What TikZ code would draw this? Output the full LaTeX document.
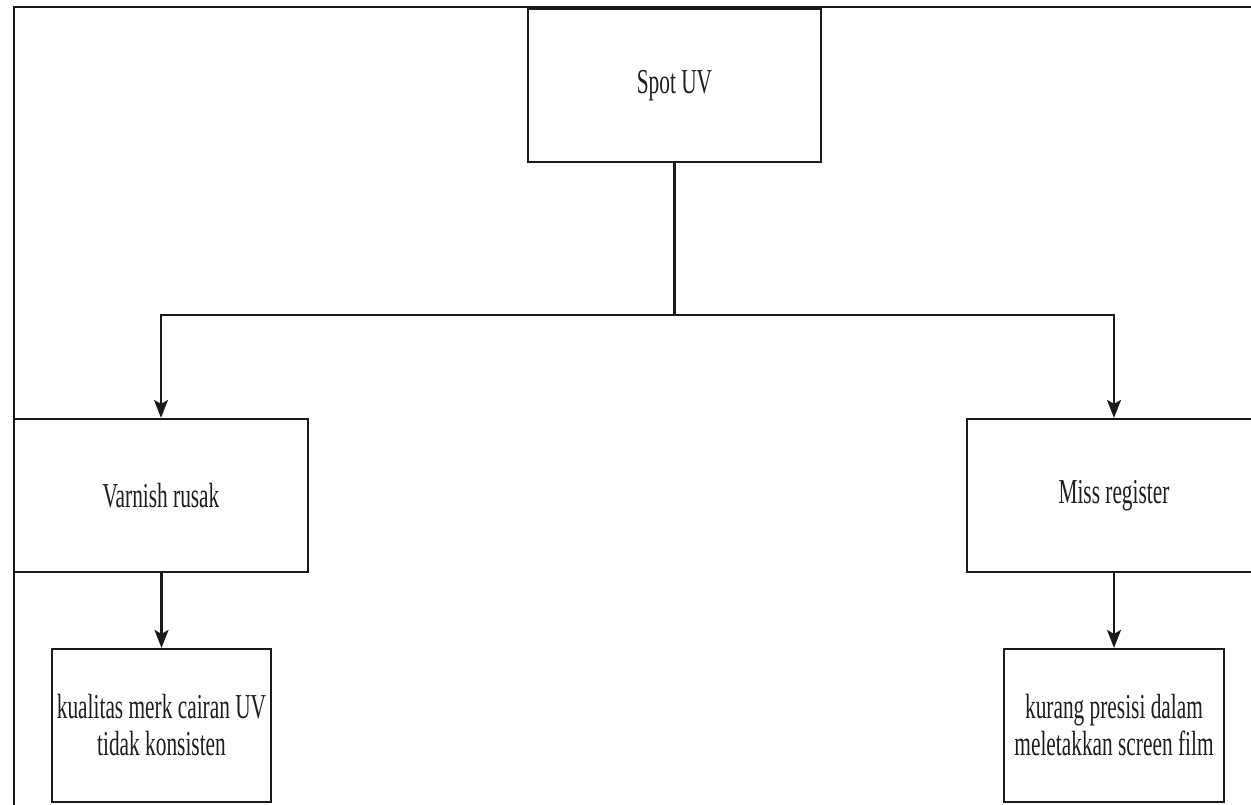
\documentclass[tikz,border=0pt]{standalone}
\usepackage{fontspec}
\newfontfamily\dfont[FakeStretch=0.61]{Liberation Serif}
\usetikzlibrary{arrows.meta}
\definecolor{ln}{HTML}{1A1A1A}
\definecolor{tx}{HTML}{1E1E1E}
\tikzset{
  box/.style={draw=ln, line width=2.2pt, fill=white, rectangle, inner sep=0pt,
    align=center, text=tx, font=\dfont\fontsize{35}{37}\selectfont},
  conn/.style={draw=ln, line width=2.2pt},
  arr/.style={conn, -{Stealth[length=18pt,width=14pt,inset=4pt]}}
}
\begin{document}
\begin{tikzpicture}[x=1pt,y=-1pt]
\useasboundingbox (0,0) rectangle (1251,805);
\clip (0,0) rectangle (1251,805);
\fill[white] (0,0) rectangle (1251,805);
% outer frame
\draw[conn] (14,820) -- (14,7) -- (1270,7);
% nodes
\node[box, minimum width=293pt, minimum height=153pt] (spot) at (674.5,85.5) {Spot UV};
\node[box, minimum width=294pt, minimum height=153pt] (varnish) at (161,495.5) {Varnish rusak};
\node[box, minimum width=294pt, minimum height=153pt] (miss) at (1114,495.5) {Miss register};
\node[box, minimum width=219pt, minimum height=153pt] (kual) at (161.5,725.5) {kualitas merk cairan UV\\tidak konsisten};
\node[box, minimum width=220pt, minimum height=153pt] (kur) at (1114,725.5) {kurang presisi dalam\\meletakkan screen film};
\draw[conn] (14,820) -- (14,7);
% connectors
\coordinate (j) at (674.5,315);
\draw[conn] (spot.south) -- (j);
\draw[arr] (j) -| (varnish.north);
\draw[arr] (j) -| (miss.north);
\draw[arr] (varnish.south -| kual.north) -- (kual.north);
\draw[arr] (miss.south) -- (kur.north);
\end{tikzpicture}
\end{document}
